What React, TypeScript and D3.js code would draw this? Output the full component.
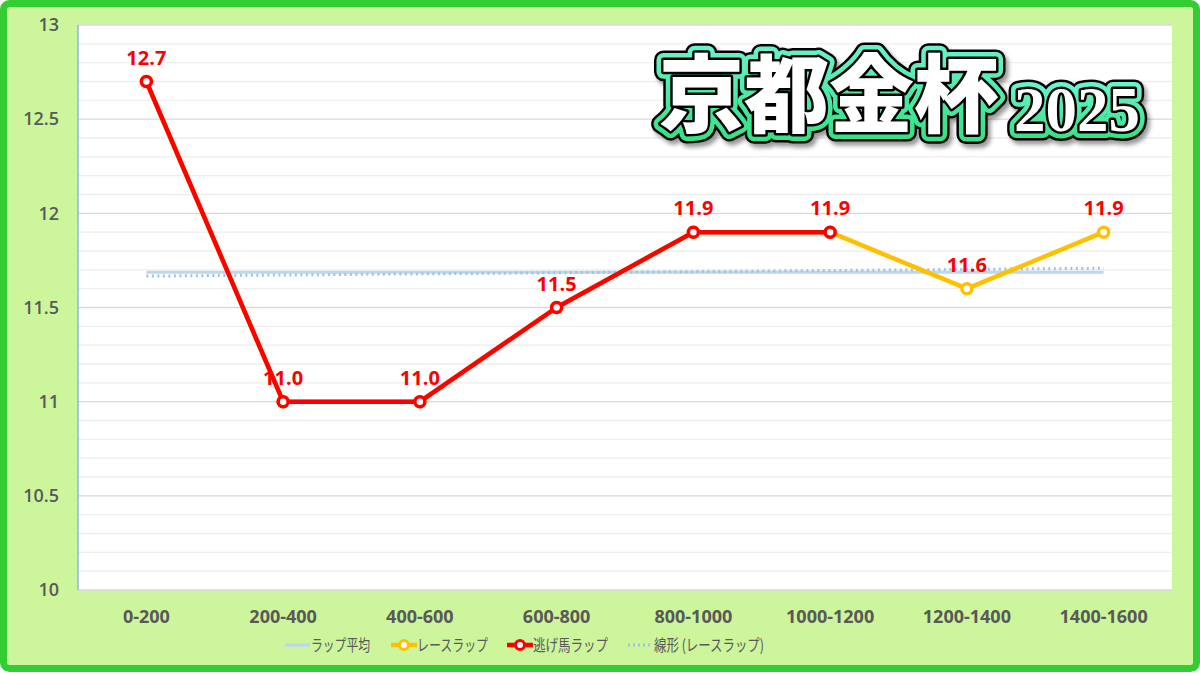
import { useEffect } from "react";
import * as d3 from "d3";

const SECTIONS = ["0-200", "200-400", "400-600", "600-800", "800-1000", "1000-1200", "1200-1400", "1400-1600"];
const RACE_LAP = [12.7, 11.0, 11.0, 11.5, 11.9, 11.9, 11.6, 11.9];
const LEADER_LAP = [12.7, 11.0, 11.0, 11.5, 11.9, 11.9];
const Y_TICKS = [10, 10.5, 11, 11.5, 12, 12.5, 13];
const LEGEND_LABELS = ["ラップ平均", "レースラップ", "逃げ馬ラップ", "線形 (レースラップ)"];
const TITLE = "京都金杯";
const TITLE_YEAR = "2025";

const W = 1200;
const H = 674;
const PLOT = { left: 78, right: 1172, top: 25, bottom: 590 };

const RED = "#ff0000";
const YELLOW = "#ffc000";
const AVG_BLUE = "#bdd7ee";
const TREND_BLUE = "#9dc3e6";
const GRAY_TEXT = "#595959";
const NUM_FONT = "'Open Sans', 'Noto Sans', sans-serif";
const JP_FONT = "'Noto Sans CJK JP', sans-serif";

// least squares trend of the race laps (Excel "線形" trendline)
function trend(values: number[]) {
  const n = values.length;
  const xs = values.map((_, i) => i + 1);
  const mx = d3.mean(xs)!;
  const my = d3.mean(values)!;
  const sxy = d3.sum(xs, (x, i) => (x - mx) * (values[i] - my));
  const sxx = d3.sum(xs, (x) => (x - mx) ** 2);
  const slope = sxy / sxx;
  return [my + slope * (1 - mx), my + slope * (n - mx)];
}

export default function App() {
  useEffect(() => {
    document.body.style.margin = "0";
  }, []);

  const x = d3.scaleBand<string>().domain(SECTIONS).range([PLOT.left, PLOT.right]);
  const cx = (s: string) => x(s)! + x.bandwidth() / 2;
  const y = d3.scaleLinear().domain([10, 13]).range([PLOT.bottom, PLOT.top]);

  const minorTicks = d3.range(101, 130).map((v) => v / 10).filter((v) => Math.abs(v * 2 - Math.round(v * 2)) > 1e-6);

  const line = d3
    .line<number>()
    .x((_, i) => cx(SECTIONS[i]))
    .y((d) => y(d));

  const avg = d3.mean(RACE_LAP)!;
  const [t0, t1] = trend(RACE_LAP);
  const first = cx(SECTIONS[0]);
  const last = cx(SECTIONS[SECTIONS.length - 1]);

  const legendY = 645;
  const legendItems = [
    { x: 285, label: LEGEND_LABELS[0], kind: "avg", width: 59 },
    { x: 391, label: LEGEND_LABELS[1], kind: "race", width: 71 },
    { x: 507, label: LEGEND_LABELS[2], kind: "leader", width: 75 },
    { x: 628, label: LEGEND_LABELS[3], kind: "trend", width: 110 },
  ];

  const titleLayer = (key: string) => (
    <>
      <text key={key + "a"} x={659} y={126} fontFamily={JP_FONT} fontWeight={900} fontSize={85}>
        {TITLE}
      </text>
      <text key={key + "b"} x={1014} y={131} fontFamily="'Liberation Serif', serif" fontWeight={700} fontSize={63}>
        {TITLE_YEAR}
      </text>
    </>
  );

  return (
    <svg width={W} height={H} style={{ display: "block" }}>
      <defs>
        <linearGradient id="titleGreen" x1="0" y1="0" x2="0" y2="1">
          <stop offset="0%" stopColor="#74f5dc" />
          <stop offset="100%" stopColor="#2ee07c" />
        </linearGradient>
        <filter id="titleShadow" x="-10%" y="-20%" width="120%" height="150%">
          <feDropShadow dx="3" dy="4" stdDeviation="2" floodColor="#000" floodOpacity="0.4" />
        </filter>
      </defs>

      <rect x={3.5} y={3.5} width={W - 7} height={H - 9} rx={6} fill="#cdf59b" stroke="#33cc33" strokeWidth={7} />

      <rect x={PLOT.left} y={PLOT.top} width={PLOT.right - PLOT.left} height={PLOT.bottom - PLOT.top} fill="#ffffff" />

      {minorTicks.map((v) => (
        <line key={"m" + v} x1={PLOT.left} x2={PLOT.right} y1={y(v)} y2={y(v)} stroke="#eeeeee" strokeWidth={1.3} />
      ))}
      {Y_TICKS.map((v) => (
        <line key={"g" + v} x1={PLOT.left} x2={PLOT.right} y1={y(v)} y2={y(v)} stroke="#d9d9d9" strokeWidth={1.3} />
      ))}
      <line x1={PLOT.left} x2={PLOT.left} y1={PLOT.top} y2={PLOT.bottom} stroke="#8eb4e3" strokeWidth={1.5} />

      {Y_TICKS.map((v) => (
        <text key={"y" + v} x={59} y={y(v)} dy="0.35em" textAnchor="end" fontFamily={NUM_FONT} fontSize={18} fontWeight={600} fill={GRAY_TEXT}>
          {String(v)}
        </text>
      ))}
      {SECTIONS.map((s) => (
        <text key={s} x={cx(s)} y={617} dy="0.35em" textAnchor="middle" fontFamily={NUM_FONT} fontSize={18} fontWeight={700} fill={GRAY_TEXT}>
          {s}
        </text>
      ))}

      {/* title */}
      <g filter="url(#titleShadow)">
        <g fill="#fff" stroke="#000" strokeWidth={19} strokeLinejoin="round">
          {titleLayer("k")}
        </g>
        <g fill="#fff" stroke="url(#titleGreen)" strokeWidth={14} strokeLinejoin="round">
          {titleLayer("g")}
        </g>
        <g fill="#fff" stroke="#000" strokeWidth={5} strokeLinejoin="round">
          {titleLayer("i")}
        </g>
        <g fill="#fff">{titleLayer("w")}</g>
      </g>

      {/* average and trend */}
      <line x1={first} x2={last} y1={y(avg)} y2={y(avg)} stroke={AVG_BLUE} strokeWidth={3} />
      <line x1={first} x2={last} y1={y(t0)} y2={y(t1)} stroke={TREND_BLUE} strokeWidth={3} strokeDasharray="2 3.5" />

      {/* race lap */}
      <path d={line(RACE_LAP)!} fill="none" stroke={YELLOW} strokeWidth={4.5} strokeLinejoin="round" />
      {RACE_LAP.map((v, i) => (
        <circle key={"r" + i} cx={cx(SECTIONS[i])} cy={y(v)} r={5} fill="#fff" stroke={YELLOW} strokeWidth={3.5} />
      ))}

      {/* leader lap */}
      <path d={line(LEADER_LAP)!} fill="none" stroke={RED} strokeWidth={4.5} strokeLinejoin="round" />
      {LEADER_LAP.map((v, i) => (
        <circle key={"l" + i} cx={cx(SECTIONS[i])} cy={y(v)} r={5} fill="#fff" stroke={RED} strokeWidth={3.5} />
      ))}

      {RACE_LAP.map((v, i) => (
        <text key={"t" + i} x={cx(SECTIONS[i])} y={y(v) - 17} textAnchor="middle" fontFamily={NUM_FONT} fontSize={20} fontWeight={700} fill={RED}>
          {v.toFixed(1)}
        </text>
      ))}

      {/* legend */}
      {legendItems.map((it) => (
        <g key={it.label}>
          {it.kind === "avg" && <line x1={it.x} x2={it.x + 25} y1={legendY} y2={legendY} stroke={AVG_BLUE} strokeWidth={3.5} />}
          {it.kind === "trend" && (
            <line x1={it.x} x2={it.x + 25} y1={legendY} y2={legendY} stroke={TREND_BLUE} strokeWidth={3} strokeDasharray="2 3" />
          )}
          {(it.kind === "race" || it.kind === "leader") && (
            <>
              <line x1={it.x} x2={it.x + 26} y1={legendY} y2={legendY} stroke={it.kind === "race" ? YELLOW : RED} strokeWidth={4.5} />
              <circle cx={it.x + 13} cy={legendY} r={4.5} fill="#fff" stroke={it.kind === "race" ? YELLOW : RED} strokeWidth={3} />
            </>
          )}
          <text
            x={it.x + 26}
            y={legendY}
            dy="0.35em"
            fontFamily={JP_FONT}
            fontSize={16}
            fill={GRAY_TEXT}
            textLength={it.width}
            lengthAdjust="spacingAndGlyphs"
          >
            {it.label}
          </text>
        </g>
      ))}
    </svg>
  );
}
